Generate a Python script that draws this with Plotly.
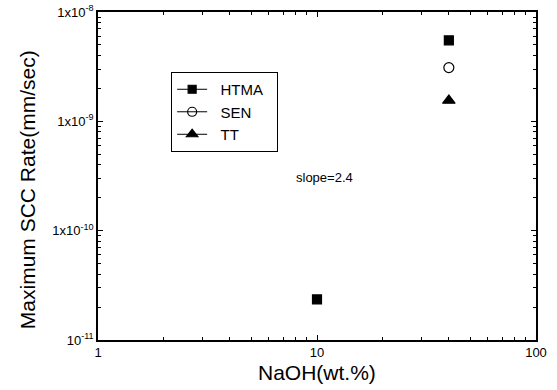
import plotly.graph_objects as go

# Data
htma_x = [10, 40]
htma_y = [2.35e-11, 5.5e-9]
sen_x = [40]
sen_y = [3.1e-9]
tt_x = [40]
tt_y = [1.55e-9]

y_tickvals = [1e-11, 1e-10, 1e-9, 1e-8]
y_ticktext = ["10<sup>-11</sup>", "1x10<sup>-10</sup>", "1x10<sup>-9</sup>", "1x10<sup>-8</sup>"]
x_tickvals = [1, 10, 100]
x_ticktext = ["1", "10", "100"]

FONT = "Liberation Sans, Arial, sans-serif"
PAD = "\u00a0\u00a0"

fig = go.Figure()

series = [
    ("HTMA", htma_x, htma_y, "square", 9),
    ("SEN", sen_x, sen_y, "circle-open", 10),
    ("TT", tt_x, tt_y, "triangle-up", 11),
]
for name, xs, ys, sym, sz in series:
    fig.add_trace(go.Scatter(
        x=xs, y=ys, mode="markers", name=name, showlegend=False,
        marker=dict(symbol=sym, size=sz, color="black", line=dict(color="black", width=1.2)),
    ))
    # legend-only entry showing line-marker-line
    fig.add_trace(go.Scatter(
        x=[None], y=[None], mode="lines+markers", name=PAD + name + PAD,
        line=dict(color="black", width=1),
        marker=dict(symbol=sym, size=sz - 1, color="black", line=dict(color="black", width=1.2)),
    ))

axis_common = dict(
    showline=True, linecolor="black", linewidth=1.5, mirror="allticks",
    ticks="inside", ticklen=5, tickcolor="black", showgrid=False, zeroline=False,
    automargin=False,
    minor=dict(ticks="inside", ticklen=3, tickcolor="black", dtick="D1", showgrid=False),
)

fig.update_xaxes(type="log", range=[0, 2], tickvals=x_tickvals, ticktext=x_ticktext,
                 tickfont=dict(size=13, family=FONT, color="black"),
                 **axis_common)
fig.update_yaxes(type="log", range=[-11, -8], tickvals=y_tickvals, ticktext=y_ticktext,
                 tickfont=dict(size=13, family=FONT, color="black"),
                 **axis_common)

fig.add_annotation(x=0.5, y=-0.098, xref="paper", yref="paper", text="NaOH(wt.%)",
                   showarrow=False, xanchor="center", yanchor="middle",
                   font=dict(size=21, family=FONT, color="black"))
fig.add_annotation(x=-0.162, y=0.457, xref="paper", yref="paper", text="Maximum SCC Rate(mm/sec)",
                   showarrow=False, xanchor="center", yanchor="middle", textangle=-90,
                   font=dict(size=21, family=FONT, color="black"))
fig.add_annotation(x=0.448, y=0.494, xref="paper", yref="paper", text="slope=2.4",
                   showarrow=False, xanchor="left", yanchor="middle",
                   font=dict(size=13, family=FONT, color="black"))

fig.update_layout(
    width=557, height=390,
    margin=dict(l=98, r=21, t=12, b=50),
    plot_bgcolor="white", paper_bgcolor="white",
    legend=dict(x=0.167, y=0.817, xanchor="left", yanchor="top",
                bordercolor="black", borderwidth=1, bgcolor="white",
                font=dict(size=15, family=FONT, color="black"),
                tracegroupgap=0, itemwidth=30),
)

fig.write_html("out.html", post_script="document.body.style.margin='0';",
               config={"displayModeBar": False})
